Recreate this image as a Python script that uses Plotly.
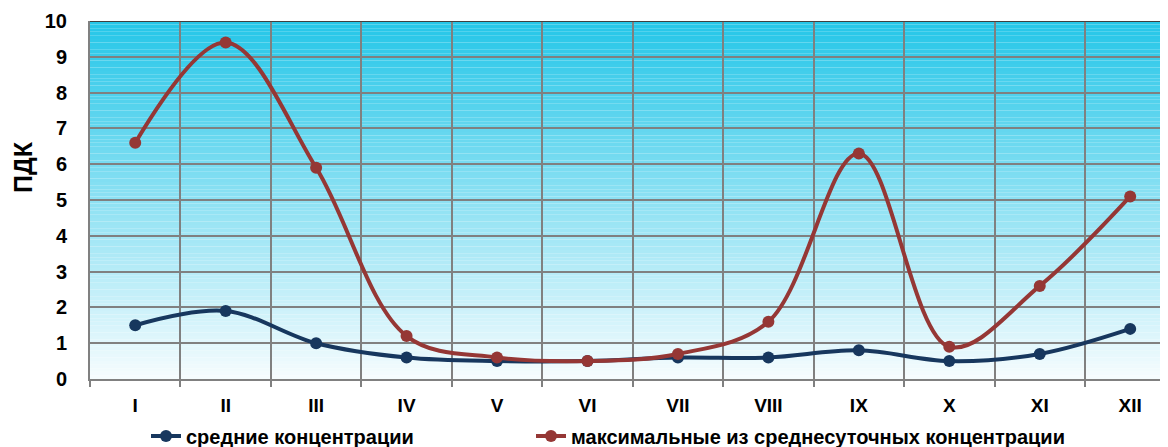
import plotly.graph_objects as go

months = ["I", "II", "III", "IV", "V", "VI", "VII", "VIII", "IX", "X", "XI", "XII"]
avg_conc = [1.5, 1.9, 1.0, 0.6, 0.5, 0.5, 0.6, 0.6, 0.8, 0.5, 0.7, 1.4]
max_conc = [6.6, 9.4, 5.9, 1.2, 0.6, 0.5, 0.7, 1.6, 6.3, 0.9, 2.6, 5.1]
y_ticks = list(range(0, 11))

BLUE = "#17375E"
RED = "#953735"
FONT = "Liberation Sans, Arial, sans-serif"

# page body has an 8px default margin; the figure is sized to the visible area
W, H = 1160, 439
L, T, B = 82, 13, 68
PW, PH = W - L, H - T - B

fig = go.Figure()

fig.add_trace(go.Scatter(
    x=months, y=avg_conc, name="средние концентрации", legend="legend",
    mode="lines+markers", line=dict(color=BLUE, width=4, shape="spline", smoothing=1),
    marker=dict(color=BLUE, size=12),
))
fig.add_trace(go.Scatter(
    x=months, y=max_conc, name="максимальные из среднесуточных концентрации", legend="legend2",
    mode="lines+markers", line=dict(color=RED, width=4, shape="spline", smoothing=1),
    marker=dict(color=RED, size=12),
))

# gradient background stripes (cyan at top -> white at bottom)
top = (36, 198, 232)
bot = (246, 252, 254)
n = 100
shapes = []
for i in range(n):
    t = (i + 0.5) / n
    c = tuple(round(bot[k] + (top[k] - bot[k]) * t) for k in range(3))
    shapes.append(dict(type="rect", xref="paper", yref="y", x0=0, x1=1,
                       y0=10 * i / n, y1=10 * (i + 1) / n,
                       fillcolor="rgb(%d,%d,%d)" % c, line=dict(width=0), layer="below"))
# top border line
shapes.append(dict(type="line", xref="paper", yref="y", x0=0, x1=1, y0=10, y1=10,
                   line=dict(color="#404040", width=2), layer="above"))
fig.update_layout(shapes=shapes)

legend_font = dict(family=FONT, size=20, weight="bold", color="black")
leg_y = (PH + T - 428) / PH

fig.update_layout(
    width=W, height=H,
    margin=dict(l=L, r=0, t=T, b=B, pad=0, autoexpand=False),
    paper_bgcolor="white", plot_bgcolor="white",
    font=dict(family=FONT, color="black"),
    showlegend=True,
    legend=dict(orientation="h", x=(138 - L) / PW, xanchor="left", y=leg_y,
                yanchor="middle", font=legend_font, bgcolor="rgba(0,0,0,0)"),
    legend2=dict(orientation="h", x=(523 - L) / PW, xanchor="left", y=leg_y,
                 yanchor="middle", font=legend_font, bgcolor="rgba(0,0,0,0)"),
    xaxis=dict(type="category", range=[-0.5, 11.418], tickson="boundaries", automargin=False,
               showgrid=True, gridcolor="#808080", gridwidth=2,
               ticks="outside", ticklen=6, tickcolor="#808080", tickwidth=2,
               showline=True, linecolor="#808080", linewidth=2,
               tickfont=dict(family=FONT, size=19, weight="bold", color="black"),
               ticklabelstandoff=8),
    yaxis=dict(range=[0, 10], tickvals=y_ticks, showgrid=True, gridcolor="#808080", gridwidth=2,
               automargin=False, zeroline=False, showline=True, linecolor="#808080", linewidth=2,
               tickfont=dict(family=FONT, size=20, weight="bold", color="black"),
               ticks="", ticklabelstandoff=17),
    annotations=[dict(text="ПДК", textangle=-90, xref="paper", yref="paper",
                      x=(15 - L) / PW, y=(PH + T - 159) / PH, xanchor="center", yanchor="middle",
                      showarrow=False,
                      font=dict(family=FONT, size=25, weight="bold", color="black"))],
)

fig.write_html("out.html")
